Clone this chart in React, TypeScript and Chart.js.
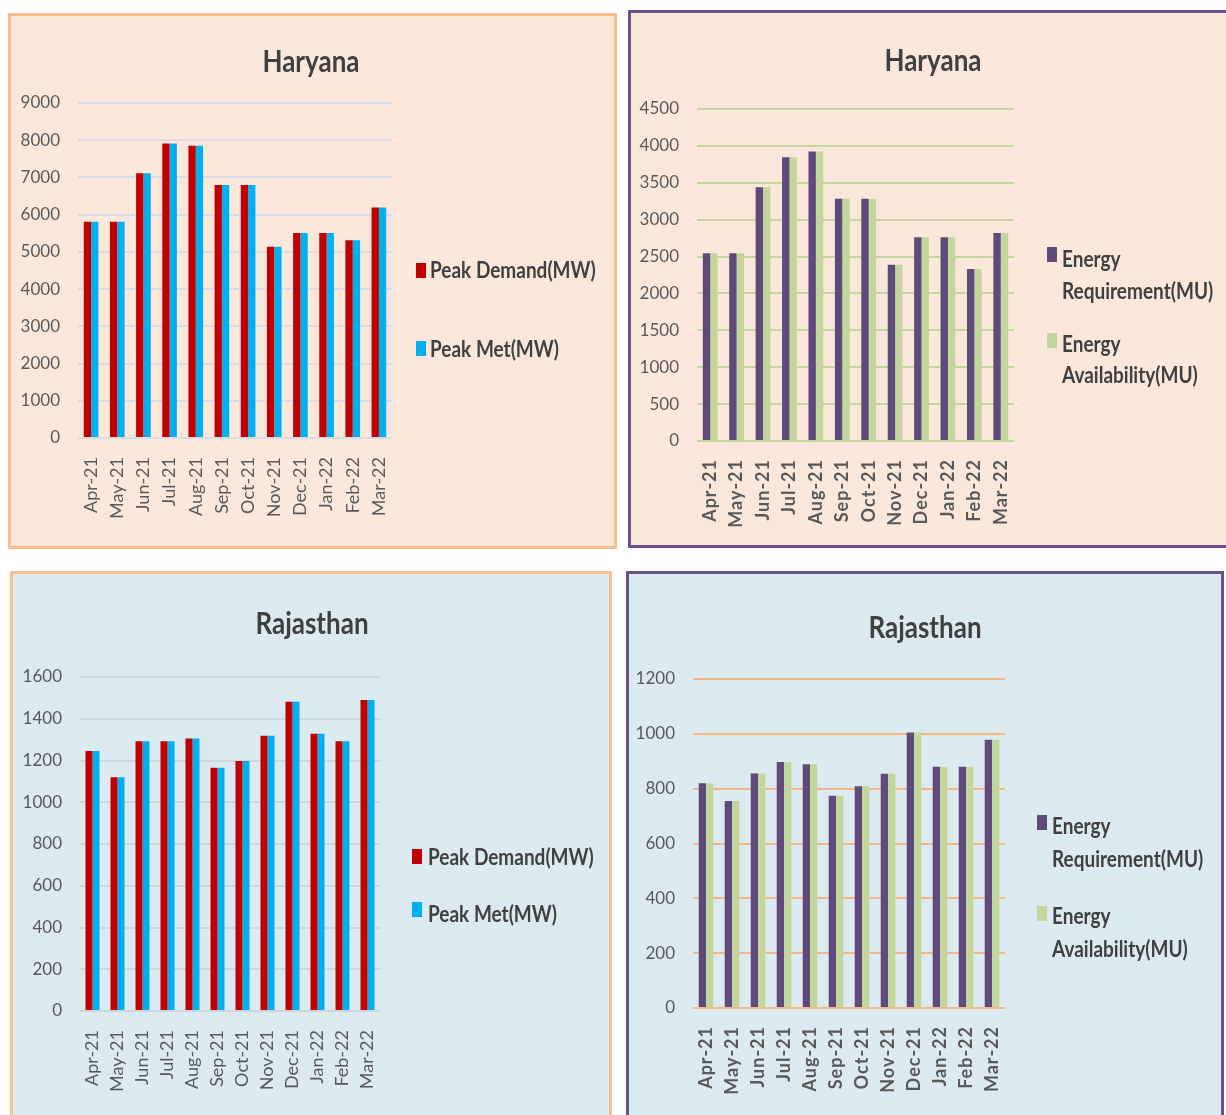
import React, { useEffect, useRef } from "react";
import { Chart, registerables } from "chart.js";

Chart.register(...registerables);

// ---- data ----
const months = [
  "Apr-21", "May-21", "Jun-21", "Jul-21", "Aug-21", "Sep-21",
  "Oct-21", "Nov-21", "Dec-21", "Jan-22", "Feb-22", "Mar-22",
];

const haryanaPeakDemand = [5810, 5810, 7110, 7910, 7850, 6800, 6800, 5140, 5510, 5510, 5310, 6190];
const haryanaPeakMet = [5810, 5810, 7110, 7910, 7850, 6800, 6800, 5140, 5510, 5510, 5310, 6190];

const haryanaEnergyRequirement = [2545, 2545, 3440, 3845, 3925, 3285, 3285, 2390, 2760, 2760, 2330, 2820];
const haryanaEnergyAvailability = [2545, 2545, 3440, 3845, 3925, 3285, 3285, 2390, 2760, 2760, 2330, 2820];

const rajasthanPeakDemand = [1245, 1120, 1292, 1292, 1305, 1165, 1198, 1318, 1482, 1328, 1292, 1490];
const rajasthanPeakMet = [1245, 1120, 1292, 1292, 1305, 1165, 1198, 1318, 1482, 1328, 1292, 1490];

const rajasthanEnergyRequirement = [820, 755, 855, 897, 889, 774, 809, 854, 1005, 880, 880, 978];
const rajasthanEnergyAvailability = [820, 755, 855, 897, 889, 774, 809, 854, 1005, 880, 880, 978];

// y-axis ranges: [max, step]
const haryanaPeakAxis = [9000, 1000];
const haryanaEnergyAxis = [4500, 500];
const rajasthanPeakAxis = [1600, 200];
const rajasthanEnergyAxis = [1200, 200];

const peakDemandLabel = ["Peak Demand(MW)"];
const peakMetLabel = ["Peak Met(MW)"];
const energyRequirementLabel = ["Energy", "Requirement(MU)"];
const energyAvailabilityLabel = ["Energy", "Availability(MU)"];

// ---- styling ----
const FONT = 'Lato, "Open Sans", sans-serif';
const RED = "#c00000";
const BLUE = "#00b0f0";
const PURPLE = "#604a7b";
const GREEN = "#c3d69b";
const PEACH = "#fce8db";
const ICE = "#dbebf1";
const ORANGE_BORDER = "#f9bf8f";
const PURPLE_BORDER = "#6a5189";
const TEXT = "#404040";
const TICK = "#595959";

type Series = { label: string[]; data: number[]; color: string };

type LegendItem = { keyTop: number; baselines: number[] };

type PanelSpec = {
  box: { left: number; top: number; width: number; height: number };
  borderColor: string;
  background: string;
  gridColor: string;
  title: string;
  titleX: number;
  titleBaseline: number;
  plot: { left: number; top: number; right: number; bottom: number };
  axis: number[];
  series: Series[];
  legendKeyX: number;
  legendTextX: number;
  legendItems: LegendItem[];
  boldX: boolean;
};

const BORDER = 3;

function Panel({ spec }: { spec: PanelSpec }) {
  const ref = useRef<HTMLCanvasElement | null>(null);
  const innerW = spec.box.width - BORDER * 2;
  const innerH = spec.box.height - BORDER * 2;
  const ox = spec.box.left + BORDER;
  const oy = spec.box.top + BORDER;

  useEffect(() => {
    const canvas = ref.current;
    if (!canvas) return;

    const plotLeft = spec.plot.left - ox;
    const plotRight = spec.plot.right - ox;
    const plotTop = spec.plot.top - oy;
    const plotBottom = spec.plot.bottom - oy;

    const textPlugin = {
      id: "panelText",
      afterDraw(chart: any) {
        const ctx = chart.ctx as CanvasRenderingContext2D;
        ctx.save();
        // title
        ctx.fillStyle = TEXT;
        ctx.textAlign = "center";
        ctx.textBaseline = "alphabetic";
        ctx.font = `bold 26px ${FONT}`;
        ctx.save();
        ctx.translate(spec.titleX - ox, spec.titleBaseline - oy);
        ctx.scale(1, 1.2);
        ctx.fillText(spec.title, 0, 0);
        ctx.restore();

        // legend
        ctx.textAlign = "left";
        ctx.font = `bold 19px ${FONT}`;
        spec.series.forEach((s, i) => {
          const item = spec.legendItems[i];
          ctx.fillStyle = s.color;
          ctx.fillRect(spec.legendKeyX - ox, item.keyTop - oy, 10, 15);
          ctx.fillStyle = TEXT;
          s.label.forEach((line, j) => {
            ctx.save();
            ctx.translate(spec.legendTextX - ox, item.baselines[j] - oy);
            ctx.scale(1, 1.15);
            ctx.fillText(line, 0, 0);
            ctx.restore();
          });
        });
        ctx.restore();
      },
    };

    const chart = new Chart(canvas, {
      type: "bar",
      data: {
        labels: months,
        datasets: spec.series.map((s) => ({
          label: s.label.join(" "),
          data: s.data,
          backgroundColor: s.color,
          borderWidth: 0,
          categoryPercentage: 0.56,
          barPercentage: 1,
        })),
      },
      options: {
        responsive: false,
        animation: false,
        devicePixelRatio: 1,
        layout: {
          padding: { left: 0, top: plotTop, right: innerW - plotRight, bottom: 0 },
        },
        plugins: {
          legend: { display: false },
          title: { display: false },
          tooltip: { enabled: false },
        },
        scales: {
          x: {
            grid: { display: false },
            border: { display: false },
            ticks: {
              autoSkip: false,
              maxRotation: 90,
              minRotation: 90,
              padding: spec.boldX ? 10 : 11,
              color: TICK,
              font: { family: FONT, size: 18, weight: spec.boldX ? "bold" : "normal" },
            },
            afterFit(scale: any) {
              scale.height = innerH - plotBottom;
              if (spec.boldX && !scale._spacedLabels) {
                scale._spacedLabels = true;
                const draw = scale.drawLabels.bind(scale);
                scale.drawLabels = (area: any) => {
                  const c = scale.ctx as any;
                  c.save();
                  c.letterSpacing = "1px";
                  draw(area);
                  c.restore();
                };
              }
            },
          },
          y: {
            min: 0,
            max: spec.axis[0],
            grid: { color: spec.gridColor, lineWidth: 2, drawTicks: false },
            border: { display: false },
            ticks: {
              stepSize: spec.axis[1],
              padding: 18,
              color: TICK,
              font: { family: FONT, size: 17 },
              callback: (v: any) => String(v),
            },
            afterFit(scale: any) {
              scale.width = plotLeft;
            },
          },
        },
      },
      plugins: [textPlugin],
    } as any);

    return () => chart.destroy();
  }, [spec]);

  return (
    <div
      style={{
        position: "absolute",
        left: spec.box.left,
        top: spec.box.top,
        width: spec.box.width,
        height: spec.box.height,
        boxSizing: "border-box",
        border: `${BORDER}px solid ${spec.borderColor}`,
        background: spec.background,
      }}
    >
      <canvas ref={ref} width={innerW} height={innerH} style={{ display: "block" }} />
    </div>
  );
}

const panels: PanelSpec[] = [
  {
    box: { left: 8, top: 13, width: 609, height: 536 },
    borderColor: ORANGE_BORDER,
    background: PEACH,
    gridColor: "#d9dde3",
    title: "Haryana",
    titleX: 311,
    titleBaseline: 72,
    plot: { left: 78, top: 103, right: 392, bottom: 438 },
    axis: haryanaPeakAxis,
    series: [
      { label: peakDemandLabel, data: haryanaPeakDemand, color: RED },
      { label: peakMetLabel, data: haryanaPeakMet, color: BLUE },
    ],
    legendKeyX: 416,
    legendTextX: 430,
    legendItems: [
      { keyTop: 263, baselines: [278] },
      { keyTop: 341, baselines: [357] },
    ],
    boldX: false,
  },
  {
    box: { left: 628, top: 10, width: 620, height: 538 },
    borderColor: PURPLE_BORDER,
    background: PEACH,
    gridColor: GREEN,
    title: "Haryana",
    titleX: 933,
    titleBaseline: 71,
    plot: { left: 697, top: 109, right: 1014, bottom: 441 },
    axis: haryanaEnergyAxis,
    series: [
      { label: energyRequirementLabel, data: haryanaEnergyRequirement, color: PURPLE },
      { label: energyAvailabilityLabel, data: haryanaEnergyAvailability, color: GREEN },
    ],
    legendKeyX: 1047,
    legendTextX: 1062,
    legendItems: [
      { keyTop: 247, baselines: [267, 299] },
      { keyTop: 333, baselines: [352, 383] },
    ],
    boldX: true,
  },
  {
    box: { left: 10, top: 571, width: 602, height: 560 },
    borderColor: ORANGE_BORDER,
    background: ICE,
    gridColor: "#cfd6d9",
    title: "Rajasthan",
    titleX: 312,
    titleBaseline: 634,
    plot: { left: 80, top: 677, right: 380, bottom: 1011 },
    axis: rajasthanPeakAxis,
    series: [
      { label: peakDemandLabel, data: rajasthanPeakDemand, color: RED },
      { label: peakMetLabel, data: rajasthanPeakMet, color: BLUE },
    ],
    legendKeyX: 412,
    legendTextX: 428,
    legendItems: [
      { keyTop: 849, baselines: [865] },
      { keyTop: 902, baselines: [922] },
    ],
    boldX: false,
  },
  {
    box: { left: 626, top: 571, width: 598, height: 560 },
    borderColor: PURPLE_BORDER,
    background: ICE,
    gridColor: "#f9b584",
    title: "Rajasthan",
    titleX: 925,
    titleBaseline: 638,
    plot: { left: 693, top: 679, right: 1005, bottom: 1008 },
    axis: rajasthanEnergyAxis,
    series: [
      { label: energyRequirementLabel, data: rajasthanEnergyRequirement, color: PURPLE },
      { label: energyAvailabilityLabel, data: rajasthanEnergyAvailability, color: GREEN },
    ],
    legendKeyX: 1037,
    legendTextX: 1052,
    legendItems: [
      { keyTop: 815, baselines: [834, 867] },
      { keyTop: 906, baselines: [924, 957] },
    ],
    boldX: true,
  },
];

export default function App() {
  return (
    <div
      style={{
        position: "fixed",
        left: 0,
        top: 0,
        width: 1226,
        height: 1115,
        overflow: "hidden",
        background: "#ffffff",
      }}
    >
      {panels.map((p, i) => (
        <Panel key={i} spec={p} />
      ))}
    </div>
  );
}
